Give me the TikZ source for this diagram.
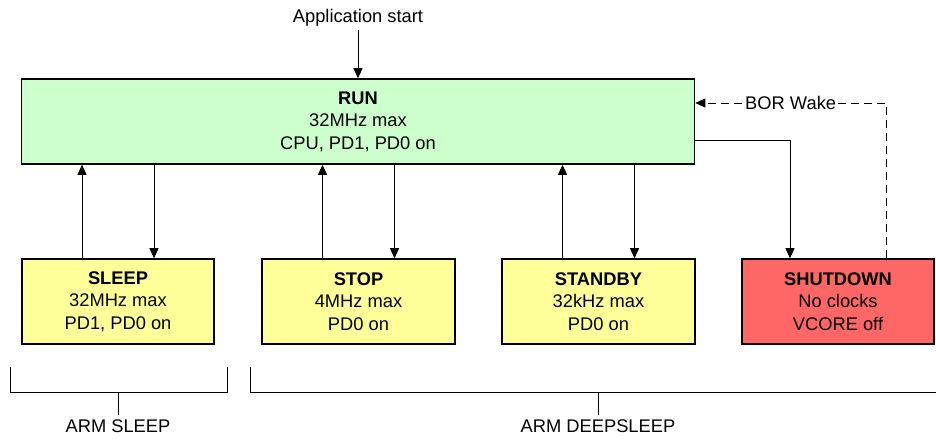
\documentclass[tikz,border=0pt]{standalone}
\usepackage{fontspec}
\setmainfont{Liberation Sans}
\usetikzlibrary{arrows.meta}
\definecolor{rungreen}{HTML}{CCFFCC}
\definecolor{lowyellow}{HTML}{FFFF99}
\definecolor{offred}{HTML}{FF6666}
\begin{document}
\begin{tikzpicture}[x=1pt,y=-1pt,line join=miter,>={Triangle[length=10pt,width=9pt]},
  font=\fontsize{18.3}{22.5}\selectfont,
  modebox/.style={draw,line width=1.6pt,align=center,inner sep=0pt,minimum height=85pt},
  link/.style={line width=0.9pt},
  brace/.style={line width=0.7pt}]
  \useasboundingbox (0,0) rectangle (936,439);
  % states
  \node[modebox,fill=rungreen,minimum width=673pt] (run) at (358,121.5) {\textbf{RUN}\\32MHz max\\CPU, PD1, PD0 on};
  \node[modebox,fill=lowyellow,minimum width=192pt] (sleep) at (118,301.5) {\textbf{SLEEP}\\32MHz max\\PD1, PD0 on};
  \node[modebox,fill=lowyellow,minimum width=193pt] (stop) at (358.5,301.5) {\textbf{STOP}\\4MHz max\\PD0 on};
  \node[modebox,fill=lowyellow,minimum width=193pt] (standby) at (598.5,301.5) {\textbf{STANDBY}\\32kHz max\\PD0 on};
  \node[modebox,fill=offred,minimum width=192pt] (shutdown) at (838,301.5) {\textbf{SHUTDOWN}\\No clocks\\VCORE off};
  \node (start) at (358,18) {Application start};
  \draw[link,->] (start.south) -- (run.north);
  % up and down between RUN and the low power modes
  \foreach \m in {sleep,stop,standby} {
    \draw[link,->] ([xshift=-36pt]\m.north) -- ([xshift=-36pt]\m.north |- run.south);
    \draw[link,->] ([xshift=36pt]\m.north |- run.south) -- ([xshift=36pt]\m.north);
  }
  \draw[link,->] (run.east |- 0,140) -| ([xshift=-48pt]shutdown.north);
  \draw[link,dashed,dash pattern=on 8pt off 5pt,->] ([xshift=48pt]shutdown.north) |- (run.east |- 0,103)
    node[pos=0.75,fill=white,inner sep=0.5pt] (bor) {BOR Wake};
  % brackets
  \path (10,367) coordinate (sl1) (227,367) coordinate (sl2)
        (250,367) coordinate (ds1) (936,367) coordinate (ds2);
  \draw[brace] (sl1) -- ++(0,25) -| (sl2);
  \draw[brace] (ds1) -- ++(0,25) -- (ds2 |- 0,392);
  \draw[brace] (118,392) -- (118,415) node[below=1.5pt] (armsleep) {ARM SLEEP};
  \draw[brace] (598,392) -- (598,415) node[below=1.5pt] (armdeep) {ARM DEEPSLEEP};
\end{tikzpicture}
\end{document}
